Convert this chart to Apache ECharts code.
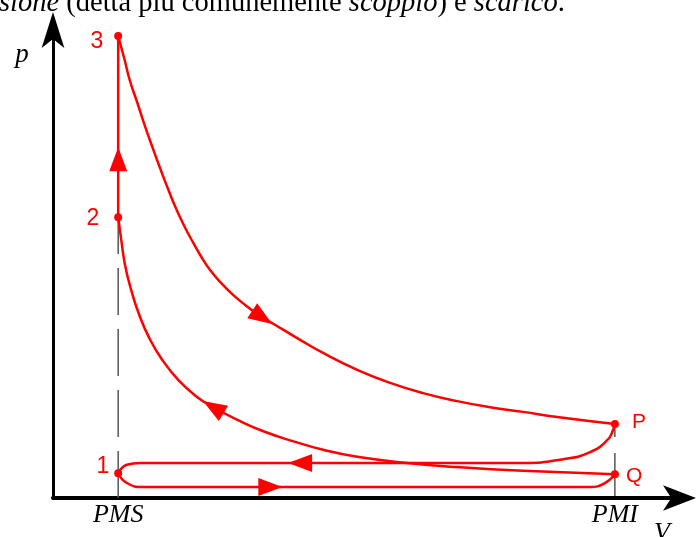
<!DOCTYPE html>
<html>
<head>
<meta charset="utf-8">
<title>Ciclo Otto</title>
<script src="https://cdn.jsdelivr.net/npm/echarts@6/dist/echarts.min.js"></script>
<style>
  html, body { margin: 0; padding: 0; background: #fff; }
  #chart { width: 696px; height: 537px; }
</style>
</head>
<body>
<div id="chart"></div>
<script>
// punti caratteristici (V, p in unità arbitrarie)
const pointNames = ['1', '2', '3', 'P', 'Q'];
const pointV = [10, 10, 10, 90, 90];
const pointP = [5.3, 60, 98.7, 15.8, 5.1];

// etichette sull'asse V
const tickValues = [10, 90];
const tickLabels = ['PMS', 'PMI'];

// 3 -> P espansione
const expansion = [[10, 98.7], [11.0, 93.8], [11.9, 89.1], [13.1, 84.4], [14.2, 79.9], [15.5, 75.0],
  [16.8, 70.3], [18.1, 65.8], [19.5, 61.3], [20.8, 57.7], [22.1, 54.5], [23.4, 51.5], [24.8, 48.7],
  [26.6, 45.9], [28.5, 43.4], [30.5, 41.2], [32.4, 39.3], [34.5, 37.6], [36.9, 35.7], [39.3, 33.8],
  [43.0, 31.0], [48.5, 27.4], [53.8, 24.6], [59.1, 22.4], [64.6, 20.7], [69.9, 19.4], [75.2, 18.4],
  [80.7, 17.3], [90, 15.8]];
// P -> 1 scarico
const exhaust = [[90, 15.8], [89.7, 14.5], [88.8, 12.4], [86.0, 9.8], [81.7, 8.3], [75.2, 7.5],
  [13.5, 7.5], [11.4, 7.1], [10, 5.3]];
// 1 -> Q aspirazione
const intake = [[10, 5.3], [11.4, 3.2], [14.0, 2.35], [86.0, 2.35], [88.4, 3.2], [90, 5.1]];
// Q -> 2 compressione
const compression = [[90, 5.1], [75.2, 5.8], [64.6, 6.6], [56.5, 7.5], [48.5, 8.8], [43.0, 10.3],
  [38.5, 12.0], [33.7, 14.1], [29.2, 16.7], [25.3, 19.4], [22.7, 21.6], [19.7, 25.2], [17.1, 29.5],
  [15.0, 34.2], [13.4, 39.1], [12.1, 44.4], [11.1, 49.8], [10.5, 55.1], [10, 60]];
// 2 -> 3 scoppio
const combustion = [[10, 60], [10, 98.7]];

// frecce di verso: posizione e direzione (gradi)
const arrowPos = [[10, 72.4], [33.2, 38.6], [25.3, 19.4], [39.3, 7.5], [34.5, 2.35]];
const arrowDir = [0, -123.4, 59, 90, -90];

// posizione delle etichette dei punti
const labelPlace = [
  { position: 'left', distance: 5, offset: [0, -7], fontSize: 23 },
  { position: 'left', distance: 15, offset: [0, 1], fontSize: 23 },
  { position: 'left', distance: 11, offset: [0, 6], fontSize: 23 },
  { position: 'right', distance: 13, offset: [0, -2], fontSize: 21 },
  { position: 'right', distance: 7, offset: [0, 2], fontSize: 21 }
];

const RED = '#ff0000';
const serif = 'Liberation Serif';

function curve(name, data) {
  return {
    name: name,
    type: 'line',
    data: data,
    smooth: 0.5,
    symbol: 'none',
    lineStyle: { color: RED, width: 2.5 },
    silent: true,
    z: 3
  };
}

const chart = echarts.init(document.getElementById('chart'), null, { renderer: 'canvas' });

chart.setOption({
  animation: false,
  backgroundColor: '#fff',
  grid: { left: 53, right: 19, top: 30, bottom: 39 },
  xAxis: {
    type: 'value',
    min: -0.5,
    max: 100,
    axisLine: {
      onZero: false,
      symbol: ['none', 'arrow'],
      symbolSize: [19, 33],
      symbolOffset: [0, 19],
      lineStyle: { color: '#000', width: 4 }
    },
    axisTick: { show: false },
    splitLine: { show: false },
    axisLabel: {
      customValues: tickValues,
      formatter: v => tickLabels[tickValues.indexOf(v)],
      fontFamily: serif,
      fontStyle: 'italic',
      fontSize: 26,
      color: '#000',
      margin: 4
    }
  },
  yAxis: {
    type: 'value',
    min: 0,
    max: 100,
    axisLine: {
      show: true,
      onZero: false,
      symbol: ['none', 'arrow'],
      symbolSize: [17, 36],
      symbolOffset: [0, 18],
      lineStyle: { color: '#000', width: 3 }
    },
    axisTick: { show: false },
    splitLine: { show: false },
    axisLabel: { show: false }
  },
  graphic: [
    {
      type: 'text',
      x: -1,
      y: 3.5,
      style: {
        text: '{i|sione} (detta più comunemente {i|scoppio}) e {i|scarico}.',
        fontFamily: serif,
        fontSize: 28.5,
        fill: '#000',
        verticalAlign: 'middle',
        rich: { i: { fontFamily: serif, fontSize: 28.5, fontStyle: 'italic' } }
      }
    },
    {
      type: 'text',
      x: 22,
      y: 55,
      style: { text: 'p', fontFamily: serif, fontStyle: 'italic', fontSize: 27, fill: '#000', align: 'center', verticalAlign: 'middle' }
    },
    {
      type: 'text',
      x: 662,
      y: 533,
      style: { text: 'V', fontFamily: serif, fontStyle: 'italic', fontSize: 26, fill: '#000', align: 'center', verticalAlign: 'middle' }
    }
  ],
  series: [
    {
      type: 'line',
      data: [[pointV[1], 0], [pointV[1], pointP[1]]],
      symbol: 'none',
      silent: true,
      lineStyle: { color: '#555', width: 1.5, type: [47, 14] },
      z: 1
    },
    {
      type: 'line',
      data: [[pointV[3], 0], [pointV[3], pointP[3]]],
      symbol: 'none',
      silent: true,
      lineStyle: { color: '#000', width: 1, type: [45, 16] },
      z: 1
    },
    curve('espansione', expansion),
    curve('scarico', exhaust),
    curve('aspirazione', intake),
    curve('compressione', compression),
    curve('scoppio', combustion),
    {
      type: 'scatter',
      symbol: 'triangle',
      symbolSize: [18, 24],
      silent: true,
      itemStyle: { color: RED, opacity: 1 },
      data: arrowPos.map((p, i) => ({ value: p, symbolRotate: arrowDir[i] })),
      z: 4
    },
    {
      type: 'scatter',
      symbol: 'circle',
      symbolSize: 8,
      silent: true,
      itemStyle: { color: RED, opacity: 1 },
      data: pointNames.map((n, i) => ({
        name: n,
        value: [pointV[i], pointP[i]],
        label: Object.assign({
          show: true,
          formatter: '{b}',
          color: RED,
          fontFamily: 'Liberation Sans'
        }, labelPlace[i])
      })),
      z: 5
    }
  ]
});

window.addEventListener('resize', () => chart.resize());
</script>
</body>
</html>
